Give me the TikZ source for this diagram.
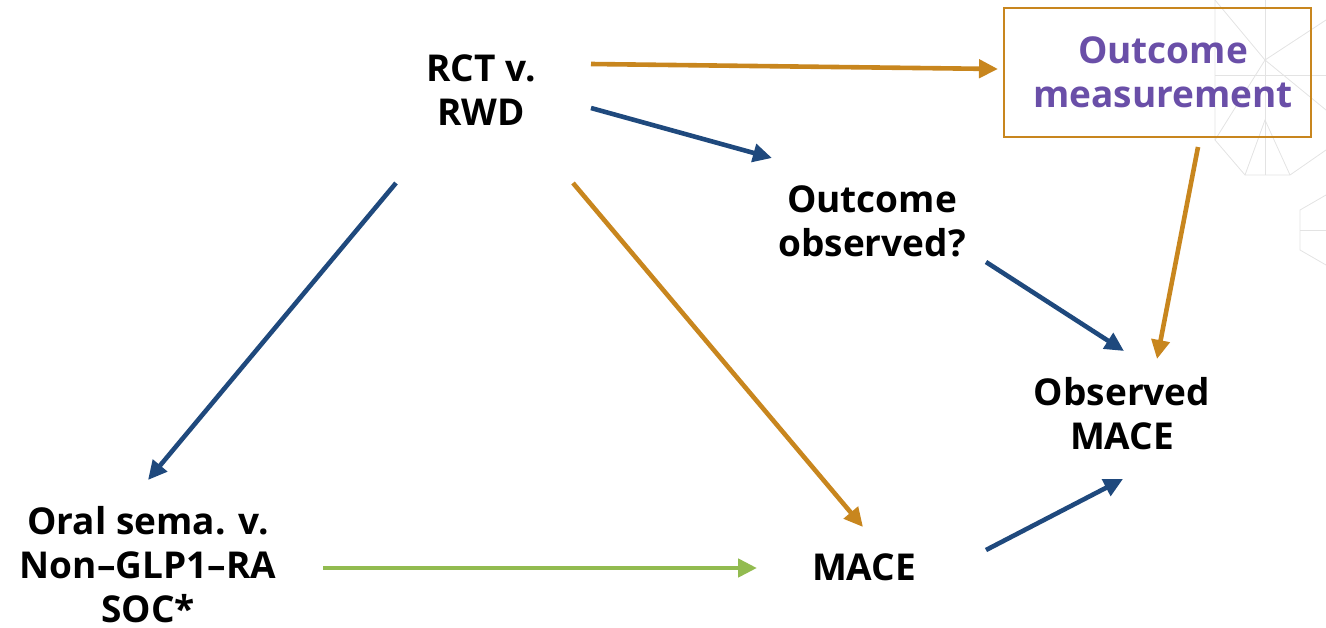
\documentclass[tikz,border=0pt]{standalone}
\usepackage{fontspec}
\setmainfont{Open Sans}
\usetikzlibrary{arrows.meta}
\definecolor{cblue}{HTML}{1F497D}
\definecolor{corange}{HTML}{C8861E}
\definecolor{cgreen}{HTML}{92BB50}
\definecolor{cpurple}{HTML}{6A4FA8}
\tikzset{
  lbl/.style={align=center, font=\fontsize{37}{44}\selectfont\bfseries, inner sep=0pt},
  arr/.style={line width=4.6pt, -{Triangle[length=19pt,width=18pt]}},
  bluearr/.style={arr, draw=cblue},
  orangearr/.style={arr, draw=corange},
  greenarr/.style={arr, draw=cgreen},
  deco/.style={draw=gray!22, line width=0.8pt}
}
\begin{document}
\begin{tikzpicture}[x=1pt,y=-1pt]
\useasboundingbox (0,0) rectangle (1326,627);
% faint background pattern
\draw[deco] (1215,0) -- (1215,140) -- (1245,175) -- (1290,175) -- (1326,150);
\draw[deco] (1215,0) -- (1265,60) -- (1326,20);
\draw[deco] (1215,140) -- (1265,60) -- (1326,110);
\draw[deco] (1245,175) -- (1265,120) -- (1290,175);
\draw[deco] (1215,75) -- (1326,75);
\draw[deco] (1265,0) -- (1265,175);
\draw[deco] (1326,195) -- (1300,210) -- (1300,250) -- (1326,265);
\draw[deco] (1300,230) -- (1326,230);
% nodes
\node[lbl] (rct) at (481,90) {RCT v.\\RWD};
\node[draw=corange, line width=2pt, minimum width=307pt, minimum height=129pt, inner sep=0pt] (box) at (1157.5,72.5) {};
\node[lbl, text=cpurple] (om) at (1163,72) {Outcome\\measurement};
\node[lbl] (oo) at (872,221) {Outcome\\observed?};
\node[lbl] (omace) at (1122,414) {Observed\\MACE};
\node[lbl] (oral) at (148,565) {Oral sema. v.\\Non--GLP1--RA\\SOC*};
\node[lbl] (mace) at (864,567) {MACE};
% connector end points
\coordinate (a1s) at (591,64);   \coordinate (a1e) at (998,69);
\coordinate (a2s) at (591,108);  \coordinate (a2e) at (772,158);
\coordinate (a3s) at (396,183);  \coordinate (a3e) at (148,480);
\coordinate (a4s) at (573,183);  \coordinate (a4e) at (863,527);
\coordinate (a5s) at (323,568);  \coordinate (a5e) at (757,568);
\coordinate (a6s) at (986,262);  \coordinate (a6e) at (1124,351);
\coordinate (a7s) at (1198,147); \coordinate (a7e) at (1157,359);
\coordinate (a8s) at (986,550);  \coordinate (a8e) at (1123,479);
\draw[orangearr] (a1s) -- (a1e);
\draw[bluearr] (a2s) -- (a2e);
\draw[bluearr] (a3s) -- (a3e);
\draw[orangearr] (a4s) -- (a4e);
\draw[greenarr] (a5s) -- (a5e);
\draw[bluearr] (a6s) -- (a6e);
\draw[orangearr] (a7s) -- (a7e);
\draw[bluearr] (a8s) -- (a8e);
\end{tikzpicture}
\end{document}
